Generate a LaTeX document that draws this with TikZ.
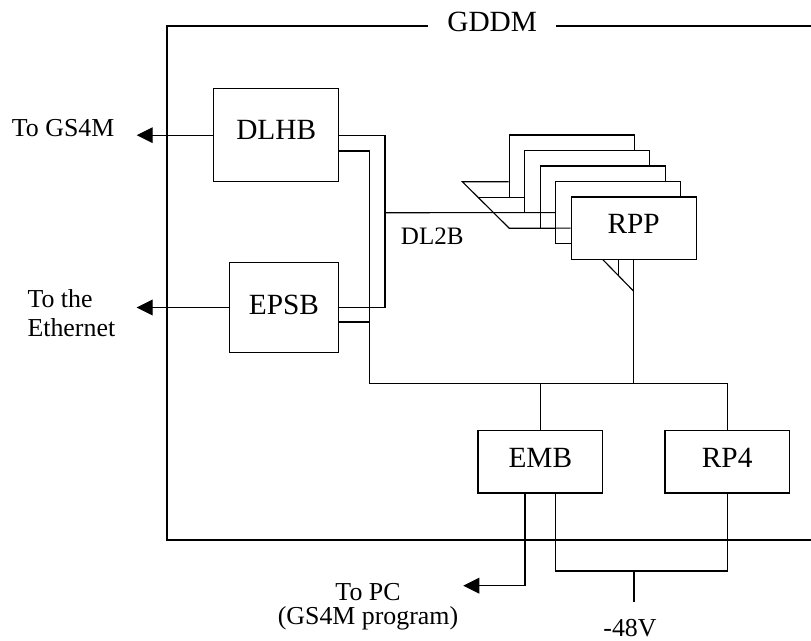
\documentclass[tikz,border=0pt]{standalone}
\usepackage{fontspec}
\setmainfont{Liberation Serif}
\usetikzlibrary{arrows.meta,calc}
\newcommand\boxfont{\fontsize{22}{26}\selectfont}
\newcommand\lblfont{\fontsize{19.4}{23}\selectfont}
\newcommand\dlfont{\fontsize{18.8}{22}\selectfont}
\tikzset{
  frameline/.style={line width=1.7pt},
  wire/.style={line width=0.85pt},
  arr/.style={wire,-{Triangle[length=12pt,width=11.8pt]}},
  blk/.style={draw, line width=0.85pt, fill=white, inner sep=0pt, font=\boxfont},
  rppbox/.style={blk, minimum width=93.6pt, minimum height=46.7pt},
  outtxt/.style={inner sep=0pt, font=\lblfont},
}
\begin{document}
\begin{tikzpicture}[x=0.75pt,y=-0.75pt]
\useasboundingbox[fill=white] (0,0) rectangle (811,641);

% frame
\node[inner sep=0pt, font=\boxfont, minimum width=95.8pt, text depth=6pt] (gddm) at (492.2,25.7) {GDDM};
\coordinate (ftl) at (166.7,25.7);
\coordinate (fbl) at (166.7,539.7);
\coordinate (fbr) at (812,539.7);
\coordinate (ftr) at (812,25.7);
\draw[frameline] (gddm.west) -- (ftl) -- (fbl) -- (fbr);
\draw[frameline] (gddm.east) -- (ftr);

% boxes
\node[blk, minimum width=93.75pt, minimum height=69.75pt, text depth=8.25pt] (dlhb) at (276.2,135.2) {DLHB};
\node[blk, minimum width=82.05pt, minimum height=67.95pt, text depth=4.5pt] (epsb) at (284,307.5) {EPSB};
\node[blk, minimum width=93.5pt, minimum height=47pt, text depth=5.5pt] (emb) at (540.35,461.65) {EMB};
\node[blk, minimum width=93.2pt, minimum height=47pt, text depth=5.5pt] (rp4) at (727.15,461.65) {RP4};

% RPP stack
\node[rppbox] (rpp1) at (571.7,166.15) {};
\node[rppbox] (rpp2) at (587.2,181.65) {};
\node[rppbox] (rpp3) at (602.7,197.15) {};
\node[rppbox] (rpp4) at (618.2,212.65) {};
\node[rppbox, text depth=5.7pt] (rpp5) at (633.7,228.15) {RPP};

% funnel into the RPP stack
\coordinate (f1) at (462.3,181.7);
\coordinate (f2) at (509.3,228.3);
\coordinate (f3) at ($(f1)!0.335!(f2)$);
\draw[wire] (rpp1.west |- f1) -- (f1) -- (f2) -- (rpp5.west);
\draw[wire] (f3) -- (rpp2.west |- f3);

% funnel under RPP
\coordinate (g1) at ($(rpp5.south)+(-30.7,0)$);
\coordinate (g2) at ($(rpp5.south)+(0,31.4)$);
\coordinate (gm) at ($(g1)!0.5!(g2)$);
\draw[wire] (g1) -- (g2);
\draw[wire] (gm) -- (gm |- rpp5.south);

% outside arrows
\coordinate (gs4m) at (136.7,135.2);
\draw[arr] (dlhb.west) -- (gs4m);
\node[outtxt, anchor=base west] (tgs) at (11.7,136.7) {To GS4M};

\coordinate (eth) at (136.7,307.5);
\draw[arr] (epsb.west) -- (eth);
\node[outtxt, anchor=base west] (eth1) at (27.3,307.3) {To the};
\node[outtxt, anchor=base west] (eth2) at (27.3,336.7) {Ethernet};

% DL2B link
\coordinate (ja) at (385,212.7);
\draw[wire] (dlhb.east) -| (ja) |- (epsb.east);
\draw[wire] (ja) -- (rpp4.west);
\node[inner sep=0pt, font=\dlfont, anchor=base west] (dl2b) at (400.7,245) {DL2B};

% bus
\coordinate (dlhbB) at ($(dlhb.east)+(0,15.8)$);
\coordinate (epsbB) at ($(epsb.east)+(0,14.5)$);
\coordinate (busL) at (369.3,383.3);
\draw[wire] (dlhbB) -| (busL) -| (rp4.north);
\draw[wire] (epsbB) -- (epsbB -| busL);
\draw[wire] (emb.north) -- (emb.north |- busL);
\draw[wire] (rpp5.south) -- (rpp5.south |- busL);

% bottom
\coordinate (embL) at ($(emb.south)+(-15.35,0)$);
\coordinate (embR) at ($(emb.south)+(15.35,0)$);
\coordinate (pc) at (463.3,585.7);
\draw[arr] (embL) |- (pc);
\coordinate (pw) at (634,571);
\coordinate (m48) at (634,602.3);
\draw[wire] (embR) |- (pw) -| (rp4.south);
\draw[wire] (pw) -- (m48);
\node[outtxt, anchor=base] (v48) at (630,636.8) {-48V};
\node[outtxt, anchor=base] (pc1) at (368,600) {To PC};
\node[outtxt, anchor=base] (pc2) at (368,624.8) {(GS4M program)};
\end{tikzpicture}
\end{document}
